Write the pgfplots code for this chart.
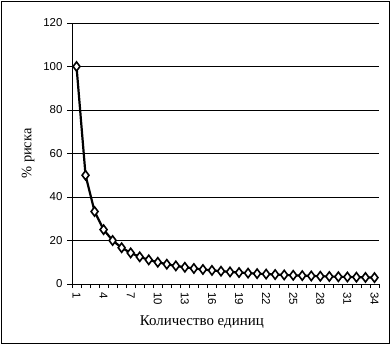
\documentclass[border=0pt]{standalone}
\usepackage{fontspec}
\setmainfont{Liberation Serif}
\newfontfamily\arial{Liberation Sans}
\usepackage{pgfplots}
\pgfplotsset{compat=1.18}
\begin{document}
\begin{tikzpicture}[x=1bp,y=1bp]
\useasboundingbox (0,0) rectangle (392,346);
\draw[line width=1.2bp] (1.5,2.5) rectangle (389.5,344.5);
\begin{axis}[
  at={(72bp,62bp)}, anchor=south west,
  scale only axis, width=307bp, height=261bp,
  xmin=0.5, xmax=34.5, ymin=0, ymax=120,
  axis x line=bottom, axis y line=left,
  axis line style={-, line width=1bp},
  xtick={1,4,7,10,13,16,19,22,25,28,31,34},
  minor xtick={0.5,1.5,...,34.5},
  ytick={0,20,...,120},
  major x tick style={draw=none},
  tick style={black, line width=0.8bp},
  minor tick length=4bp, major tick length=5bp,
  tick align=outside,
  ymajorgrids, grid style={black, line width=0.9bp},
  /pgf/number format/assume math mode=true,
  ticklabel style={font=\arial\fontsize{11.5}{12}\selectfont},
  xticklabel style={rotate=-90, anchor=west, xshift=0bp},
  yticklabel style={xshift=-1bp},
  ylabel={\% риска},
  ylabel style={font=\fontsize{14.5}{15}\selectfont, at={(axis description cs:-0.1433,0.5)}, anchor=center},
  xlabel={Количество единиц},
  xlabel style={font=\fontsize{15}{16}\selectfont, at={(axis description cs:0.423,-0.1456)}, anchor=center},
  clip=false,
]
\addplot[black, line width=2.2bp, mark=diamond*, mark size=4.6bp,
  mark options={fill=white, draw=black, line width=1.6bp}]
  coordinates {
  (1,100) (2,50) (3,33.33) (4,25) (5,20) (6,16.67) (7,14.29) (8,12.5)
  (9,11.11) (10,10) (11,9.09) (12,8.33) (13,7.69) (14,7.14) (15,6.67)
  (16,6.25) (17,5.88) (18,5.56) (19,5.26) (20,5) (21,4.76) (22,4.55)
  (23,4.35) (24,4.17) (25,4) (26,3.85) (27,3.7) (28,3.57) (29,3.45)
  (30,3.33) (31,3.23) (32,3.13) (33,3.03) (34,2.94)
  };
\end{axis}
\end{tikzpicture}
\end{document}
